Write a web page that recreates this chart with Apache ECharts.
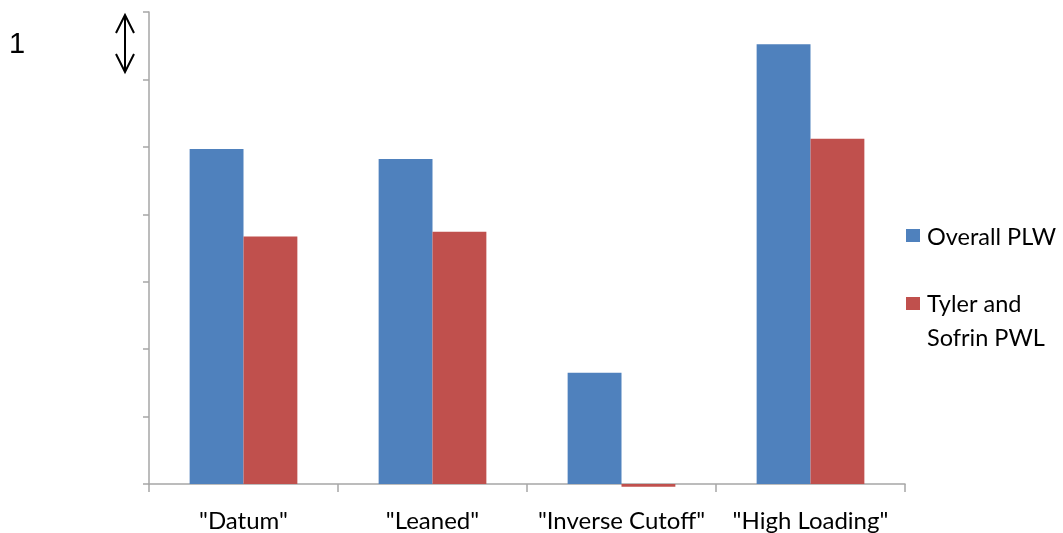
<!DOCTYPE html>
<html>
<head>
<meta charset="utf-8">
<script src="https://cdn.jsdelivr.net/npm/echarts@6/dist/echarts.min.js"></script>
<style>
  html, body { margin: 0; padding: 0; background: #ffffff; }
  #chart { width: 1063px; height: 533px; }
</style>
</head>
<body>
<div id="chart"></div>
<script>
// Loss configurations along the x axis
const categories = ['"Datum"', '"Leaned"', '"Inverse Cutoff"', '"High Loading"'];
// Series names and values (relative units)
const seriesNames = ['Overall PLW', 'Tyler and\nSofrin PWL'];
const overallPLW = [4.97, 4.82, 1.65, 6.52];
const tylerSofrinPWL = [3.67, 3.74, -0.04, 5.12];

const colors = ['#4F81BD', '#C0504D'];
const labelFont = 'Lato, "Open Sans", "Liberation Sans", sans-serif';

const chart = echarts.init(document.getElementById('chart'), null, { renderer: 'canvas' });

chart.setOption({
  animation: false,
  backgroundColor: '#ffffff',
  grid: { left: 149, right: 158, top: 12, bottom: 48, containLabel: false },
  xAxis: {
    type: 'category',
    data: categories,
    boundaryGap: true,
    axisLine: { show: true, lineStyle: { color: '#a6a6a6', width: 1.5 } },
    axisTick: { show: true, interval: 0, alignWithLabel: false, length: 8, lineStyle: { color: '#a6a6a6', width: 1.5 } },
    axisLabel: { interval: 0, color: '#000000', fontFamily: labelFont, fontSize: 24, margin: 25 }
  },
  yAxis: {
    type: 'value',
    min: 0,
    max: 7,
    interval: 1,
    axisLine: { show: true, lineStyle: { color: '#a6a6a6', width: 1.5 } },
    axisTick: { show: true, length: 6, lineStyle: { color: '#a6a6a6', width: 1.5 } },
    axisLabel: { show: false },
    splitLine: { show: false }
  },
  series: [
    {
      name: seriesNames[0],
      type: 'bar',
      data: overallPLW,
      barGap: '0%',
      barCategoryGap: '43%',
      clip: false,
      itemStyle: { color: colors[0] }
    },
    {
      name: seriesNames[1],
      type: 'bar',
      data: tylerSofrinPWL,
      barGap: '0%',
      barCategoryGap: '43%',
      clip: false,
      itemStyle: { color: colors[1] }
    }
  ],
  graphic: [
    // scale marker: "1" with a double-headed arrow
    { type: 'text', x: 9, y: 45, style: { text: '1', fill: '#000', font: '29px "Liberation Sans", Arial, sans-serif', textVerticalAlign: 'middle' } },
    { type: 'line', shape: { x1: 125, y1: 15, x2: 125, y2: 72 }, style: { stroke: '#000', lineWidth: 2 } },
    { type: 'polyline', shape: { points: [[116, 33], [125, 15], [134, 33]] }, style: { stroke: '#000', lineWidth: 2, fill: null } },
    { type: 'polyline', shape: { points: [[116, 54], [125, 72], [134, 54]] }, style: { stroke: '#000', lineWidth: 2, fill: null } },
    // legend
    { type: 'rect', shape: { x: 906, y: 229, width: 14, height: 13 }, style: { fill: colors[0] } },
    { type: 'text', x: 927, y: 237, style: { text: seriesNames[0], fill: '#000', font: '23.5px ' + labelFont, textVerticalAlign: 'middle' } },
    { type: 'rect', shape: { x: 906, y: 297, width: 14, height: 13 }, style: { fill: colors[1] } },
    { type: 'text', x: 927, y: 304, style: { text: 'Tyler and', fill: '#000', font: '23.5px ' + labelFont, textVerticalAlign: 'middle' } },
    { type: 'text', x: 927, y: 338, style: { text: 'Sofrin PWL', fill: '#000', font: '23.5px ' + labelFont, textVerticalAlign: 'middle' } }
  ]
});
</script>
</body>
</html>
